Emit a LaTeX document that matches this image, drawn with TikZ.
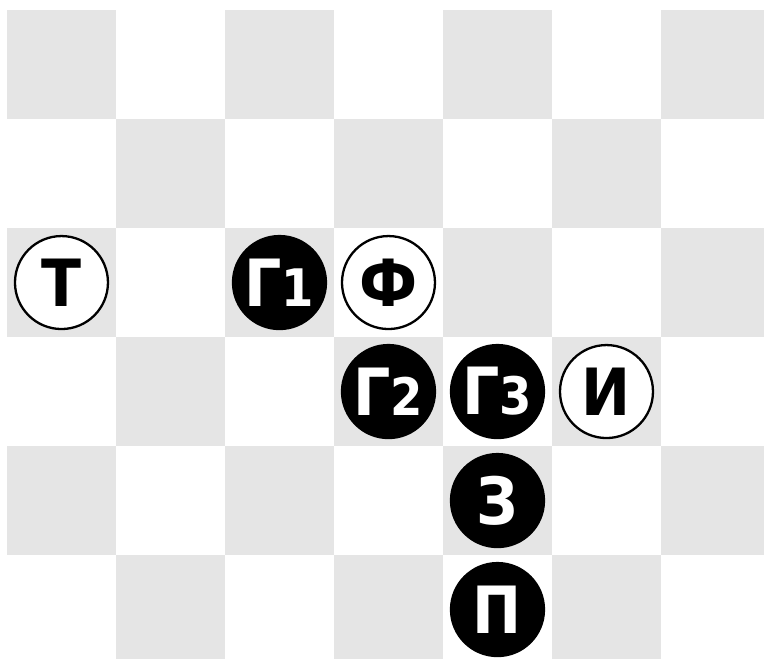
\documentclass[tikz,border=0pt]{standalone}
\usepackage{fontspec}
\newfontfamily\piecefont{DejaVu Sans Condensed}[BoldFont={DejaVu Sans Condensed Bold}]
\newcommand\pieceidx[1]{{\fontsize{13.5}{13.5}\selectfont#1}}
\begin{document}
\begin{tikzpicture}[x=1cm, y=-1cm, line join=round, line cap=round,
		light piece/.style={circle, draw=black, line width=0.6pt, fill=white, text=black,
			minimum size=0.853cm, inner sep=0pt, font=\piecefont\bfseries\fontsize{17}{17}\selectfont},
		dark piece/.style={light piece, fill=black, text=white}]
	\def\ox{0.064}\def\oy{0.092}\def\boardw{7.009}\def\boardh{6.037}
	\useasboundingbox (0,0) rectangle (\boardw,\boardh);
	\begin{scope}
		\clip (0,0) rectangle (\boardw,\boardh);
		\foreach \r in {0,...,5} \foreach \c in {0,...,6} {
			\pgfmathparse{int(mod(\r+\c,2))}
			\ifnum\pgfmathresult=0 \fill[black!10] (\ox+\c,\oy+\r) rectangle ++(1,1); \fi
		}
	\end{scope}
	% pieces
	\node[light piece] (t) at (\ox+0.5,\oy+2.5) {Т};
	\node[dark piece] (g1) at (\ox+2.5,\oy+2.5) {Г\pieceidx{1}};
	\node[light piece] (f) at (\ox+3.5,\oy+2.5) {Ф};
	\node[dark piece] (g2) at (\ox+3.5,\oy+3.5) {Г\pieceidx{2}};
	\node[dark piece] (g3) at (\ox+4.5,\oy+3.5) {Г\pieceidx{3}};
	\node[light piece] (i) at (\ox+5.5,\oy+3.5) {И};
	\node[dark piece] (z) at (\ox+4.5,\oy+4.5) {З};
	\node[dark piece] (p) at (\ox+4.5,\oy+5.5) {П};
\end{tikzpicture}
\end{document}
